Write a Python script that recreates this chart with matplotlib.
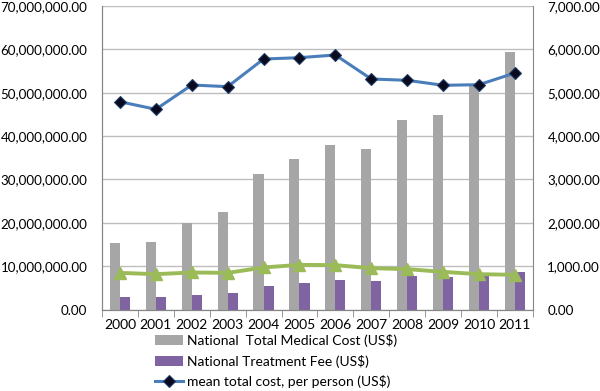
import matplotlib
matplotlib.use("Agg")
import matplotlib.pyplot as plt
import numpy as np
from matplotlib.ticker import FuncFormatter

years = ["2000", "2001", "2002", "2003", "2004", "2005", "2006", "2007", "2008", "2009", "2010", "2011"]
national_total = [15.4e6, 15.6e6, 19.9e6, 22.6e6, 31.3e6, 34.8e6, 37.9e6, 37.1e6, 43.6e6, 44.8e6, 51.8e6, 59.5e6]
national_treatment = [2.9e6, 2.9e6, 3.3e6, 3.8e6, 5.4e6, 6.1e6, 6.8e6, 6.5e6, 7.7e6, 7.5e6, 7.8e6, 8.7e6]
mean_total_pp = [4792, 4617, 5178, 5139, 5777, 5808, 5870, 5316, 5286, 5171, 5185, 5454]
mean_treatment_pp = [845, 815, 854, 845, 970, 1030, 1023, 954, 931, 868, 815, 800]

labels = ["National  Total Medical Cost (US$)", "National Treatment Fee (US$)", "mean total cost, per person (US$)"]

plt.rcParams['font.family'] = ['Lato', 'DejaVu Sans']
fs = 9.6

fig = plt.figure(figsize=(6, 3.91), dpi=100)
ax = fig.add_axes([0.17, 0.2084, 0.718, 0.7763])
ax2 = ax.twinx()

x = np.arange(len(years))
w = 0.28
b1 = ax.bar(x - w/2, national_total, w, color="#A6A6A6", zorder=2, label=labels[0])
b2 = ax.bar(x + w/2, national_treatment, w, color="#8064A2", zorder=2, label=labels[1])

l1, = ax2.plot(x, mean_total_pp, color="#4A7EBB", lw=2.2, marker="D", ms=6,
               mfc="#0A0A1E", mec="#1F3A66", mew=0.8, zorder=4, label=labels[2])
ax2.plot(x, mean_treatment_pp, color="#9BBB59", lw=2.8, marker="^", ms=8,
         mfc="#9BBB59", mec="#9BBB59", zorder=4)

ax.set_xlim(-0.5, len(years) - 0.5)
ax.set_ylim(0, 70e6)
ax2.set_ylim(0, 7000)
ax.set_yticks(np.arange(0, 70e6 + 1, 10e6))
ax2.set_yticks(np.arange(0, 7001, 1000))
fmt = FuncFormatter(lambda v, p: "{:,.2f}".format(v))
ax.yaxis.set_major_formatter(fmt)
ax2.yaxis.set_major_formatter(fmt)

ax.grid(axis='y', color="#BEBEBE", lw=1.0, zorder=0)
ax.set_axisbelow(True)

ax.set_xticks(x)
ax.set_xticklabels(years, fontsize=10)
ax.set_xticks(np.arange(-0.5, len(years)), minor=True)
ax.tick_params(axis='x', which='major', length=0, pad=7)
ax.tick_params(axis='x', which='minor', length=5, color="#868686", direction='out')
ax.tick_params(axis='y', length=0, pad=10.5, labelsize=fs)
ax2.tick_params(axis='y', length=0, pad=10.5, labelsize=fs)

for a in (ax, ax2):
    a.spines['top'].set_visible(False)
    for s in ('left', 'right', 'bottom'):
        a.spines[s].set_color("#868686")
ax.spines['right'].set_visible(False)

fig.legend(handles=[b1, b2, l1], labels=labels, loc='upper left',
           bbox_to_anchor=(155/600, 1 - 334/391), frameon=False, fontsize=10,
           handlelength=2.0, handletextpad=0.3, labelspacing=0.55,
           borderaxespad=0, borderpad=0)

fig.savefig("out.png", dpi=100)
